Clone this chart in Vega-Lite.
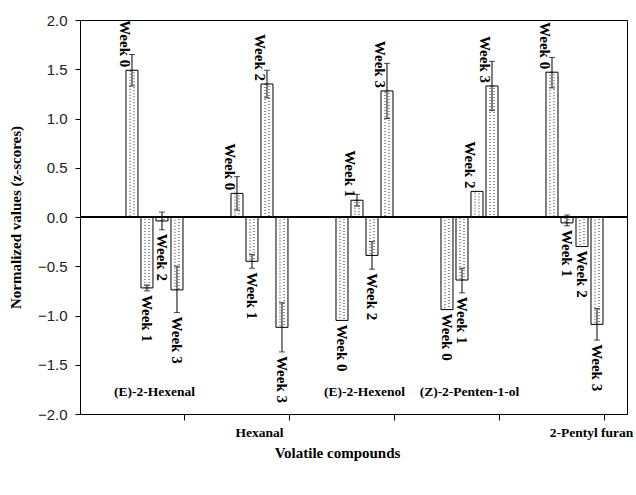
{
  "$schema": "https://vega.github.io/schema/vega-lite/v6.json",
  "width": 547,
  "height": 394,
  "autosize": {"type": "none"},
  "padding": {"left": 80, "top": 20, "right": 9, "bottom": 81},
  "background": "white",
  "config": {
    "view": {"stroke": "black", "strokeWidth": 1},
    "axis": {"grid": false, "domainColor": "black", "tickColor": "black", "domainWidth": 1, "tickWidth": 1},
    "axisX": {
      "titleFont": "Liberation Serif", "titleFontWeight": "bold", "titleFontSize": 15, "titleColor": "black",
      "titleX": 257, "titleY": 43, "titleBaseline": "alphabetic",
      "bandPosition": 1, "tickSize": 6,
      "labelFont": "Liberation Serif", "labelFontWeight": "bold", "labelFontSize": 13.5, "labelColor": "black",
      "labelAngle": 0, "labelPadding": 5, "labelOverlap": false
    },
    "axisY": {
      "titleFont": "Liberation Serif", "titleFontWeight": "bold", "titleFontSize": 15, "titleColor": "black", "titlePadding": 14,
      "tickSize": 5, "labelPadding": 8,
      "labelFont": "Liberation Sans", "labelFontSize": 15, "labelColor": "#222"
    }
  },
  "data": {
    "values": [
      {"compound": "(E)-2-Hexenal", "week": "Week 0", "value": 1.49, "lower": 1.33, "upper": 1.65},
      {"compound": "(E)-2-Hexenal", "week": "Week 1", "value": -0.72, "lower": -0.75, "upper": -0.69},
      {"compound": "(E)-2-Hexenal", "week": "Week 2", "value": -0.04, "lower": -0.13, "upper": 0.05},
      {"compound": "(E)-2-Hexenal", "week": "Week 3", "value": -0.74, "lower": -0.97, "upper": -0.5},
      {"compound": "Hexanal", "week": "Week 0", "value": 0.24, "lower": 0.07, "upper": 0.41},
      {"compound": "Hexanal", "week": "Week 1", "value": -0.45, "lower": -0.52, "upper": -0.38},
      {"compound": "Hexanal", "week": "Week 2", "value": 1.35, "lower": 1.21, "upper": 1.49},
      {"compound": "Hexanal", "week": "Week 3", "value": -1.12, "lower": -1.37, "upper": -0.87},
      {"compound": "(E)-2-Hexenol", "week": "Week 0", "value": -1.05, "lower": -1.05, "upper": -1.05},
      {"compound": "(E)-2-Hexenol", "week": "Week 1", "value": 0.17, "lower": 0.11, "upper": 0.23},
      {"compound": "(E)-2-Hexenol", "week": "Week 2", "value": -0.39, "lower": -0.53, "upper": -0.25},
      {"compound": "(E)-2-Hexenol", "week": "Week 3", "value": 1.28, "lower": 1.0, "upper": 1.56},
      {"compound": "(Z)-2-Penten-1-ol", "week": "Week 0", "value": -0.94, "lower": -0.94, "upper": -0.94},
      {"compound": "(Z)-2-Penten-1-ol", "week": "Week 1", "value": -0.64, "lower": -0.77, "upper": -0.52},
      {"compound": "(Z)-2-Penten-1-ol", "week": "Week 2", "value": 0.26, "lower": 0.26, "upper": 0.26},
      {"compound": "(Z)-2-Penten-1-ol", "week": "Week 3", "value": 1.33, "lower": 1.08, "upper": 1.58},
      {"compound": "2-Pentyl furan", "week": "Week 0", "value": 1.47, "lower": 1.31, "upper": 1.62},
      {"compound": "2-Pentyl furan", "week": "Week 1", "value": -0.06, "lower": -0.09, "upper": 0.02},
      {"compound": "2-Pentyl furan", "week": "Week 2", "value": -0.3, "lower": -0.3, "upper": -0.3},
      {"compound": "2-Pentyl furan", "week": "Week 3", "value": -1.09, "lower": -1.25, "upper": -0.93}
    ]
  },
  "layer": [
    {
      "mark": {"type": "bar", "fill": "white", "stroke": "black", "strokeWidth": 1},
      "encoding": {
        "x": {
          "field": "compound", "type": "nominal", "title": "Volatile compounds",
          "sort": ["(E)-2-Hexenal", "Hexanal", "(E)-2-Hexenol", "(Z)-2-Penten-1-ol", "2-Pentyl furan"],
          "scale": {"paddingInner": 0.4286, "paddingOuter": 0.319, "align": 0.664},
          "axis": {
            "labelExpr": "datum.value == 'Hexanal' || datum.value == '2-Pentyl furan' ? datum.value : ''",
            "labelOffset": {"condition": {"test": "datum.value == '2-Pentyl furan'", "value": 17}, "value": 0}
          }
        },
        "xOffset": {"field": "week", "type": "nominal", "sort": ["Week 0", "Week 1", "Week 2", "Week 3"], "scale": {"paddingInner": 0.2, "paddingOuter": 0.1}},
        "y": {
          "field": "value", "type": "quantitative", "title": "Normalized values (z-scores)",
          "scale": {"domain": [-2, 2], "nice": false},
          "axis": {"values": [-2, -1.5, -1, -0.5, 0, 0.5, 1, 1.5, 2], "format": ".1f"}
        }
      }
    },
    {
      "mark": {"type": "bar", "width": 4, "fillOpacity": 0, "stroke": "#222", "strokeDash": [1, 2], "strokeWidth": 1},
      "encoding": {
        "x": {"field": "compound", "type": "nominal", "title": "Volatile compounds", "sort": ["(E)-2-Hexenal", "Hexanal", "(E)-2-Hexenol", "(Z)-2-Penten-1-ol", "2-Pentyl furan"]},
        "xOffset": {"field": "week", "type": "nominal", "sort": ["Week 0", "Week 1", "Week 2", "Week 3"]},
        "y": {"field": "value", "type": "quantitative", "title": "Normalized values (z-scores)"}
      }
    },
    {
      "mark": {"type": "rule", "color": "black", "strokeWidth": 1},
      "encoding": {"y": {"datum": 0, "title": "Normalized values (z-scores)"}}
    },
    {
      "transform": [{"filter": "datum.upper > datum.lower"}],
      "mark": {"type": "rule", "color": "black", "strokeWidth": 1},
      "encoding": {
        "x": {"field": "compound", "type": "nominal", "title": "Volatile compounds", "sort": ["(E)-2-Hexenal", "Hexanal", "(E)-2-Hexenol", "(Z)-2-Penten-1-ol", "2-Pentyl furan"]},
        "xOffset": {"field": "week", "type": "nominal", "sort": ["Week 0", "Week 1", "Week 2", "Week 3"]},
        "y": {"field": "lower", "type": "quantitative", "title": "Normalized values (z-scores)"},
        "y2": {"field": "upper"}
      }
    },
    {
      "transform": [{"filter": "datum.upper > datum.lower"}],
      "mark": {"type": "tick", "color": "black", "size": 6, "thickness": 1},
      "encoding": {
        "x": {"field": "compound", "type": "nominal", "title": "Volatile compounds", "sort": ["(E)-2-Hexenal", "Hexanal", "(E)-2-Hexenol", "(Z)-2-Penten-1-ol", "2-Pentyl furan"]},
        "xOffset": {"field": "week", "type": "nominal", "sort": ["Week 0", "Week 1", "Week 2", "Week 3"]},
        "y": {"field": "upper", "type": "quantitative", "title": "Normalized values (z-scores)"}
      }
    },
    {
      "transform": [{"filter": "datum.upper > datum.lower"}],
      "mark": {"type": "tick", "color": "black", "size": 6, "thickness": 1},
      "encoding": {
        "x": {"field": "compound", "type": "nominal", "title": "Volatile compounds", "sort": ["(E)-2-Hexenal", "Hexanal", "(E)-2-Hexenol", "(Z)-2-Penten-1-ol", "2-Pentyl furan"]},
        "xOffset": {"field": "week", "type": "nominal", "sort": ["Week 0", "Week 1", "Week 2", "Week 3"]},
        "y": {"field": "lower", "type": "quantitative", "title": "Normalized values (z-scores)"}
      }
    },
    {
      "transform": [{"filter": "datum.value > 0"}],
      "mark": {"type": "text", "angle": 90, "align": "right", "baseline": "middle", "dx": -3, "dy": 7, "font": "Liberation Serif", "fontWeight": "bold", "fontSize": 15, "color": "black"},
      "encoding": {
        "x": {"field": "compound", "type": "nominal", "title": "Volatile compounds", "sort": ["(E)-2-Hexenal", "Hexanal", "(E)-2-Hexenol", "(Z)-2-Penten-1-ol", "2-Pentyl furan"]},
        "xOffset": {"field": "week", "type": "nominal", "sort": ["Week 0", "Week 1", "Week 2", "Week 3"]},
        "y": {"field": "value", "type": "quantitative", "title": "Normalized values (z-scores)"},
        "text": {"field": "week"}
      }
    },
    {
      "transform": [{"filter": "datum.value <= 0"}],
      "mark": {"type": "text", "angle": 90, "align": "left", "baseline": "middle", "dx": 4, "dy": 0, "font": "Liberation Serif", "fontWeight": "bold", "fontSize": 15, "color": "black"},
      "encoding": {
        "x": {"field": "compound", "type": "nominal", "title": "Volatile compounds", "sort": ["(E)-2-Hexenal", "Hexanal", "(E)-2-Hexenol", "(Z)-2-Penten-1-ol", "2-Pentyl furan"]},
        "xOffset": {"field": "week", "type": "nominal", "sort": ["Week 0", "Week 1", "Week 2", "Week 3"]},
        "y": {"field": "lower", "type": "quantitative", "title": "Normalized values (z-scores)"},
        "text": {"field": "week"}
      }
    },
    {
      "data": {"values": [{"compound": "(E)-2-Hexenal"}, {"compound": "(E)-2-Hexenol"}, {"compound": "(Z)-2-Penten-1-ol"}]},
      "mark": {"type": "text", "align": "center", "baseline": "middle", "font": "Liberation Serif", "fontWeight": "bold", "fontSize": 13.5, "color": "black"},
      "encoding": {
        "x": {"field": "compound", "type": "nominal", "title": "Volatile compounds", "sort": ["(E)-2-Hexenal", "Hexanal", "(E)-2-Hexenol", "(Z)-2-Penten-1-ol", "2-Pentyl furan"]},
        "y": {"datum": -1.78, "title": "Normalized values (z-scores)"},
        "text": {"field": "compound"}
      }
    }
  ]
}
